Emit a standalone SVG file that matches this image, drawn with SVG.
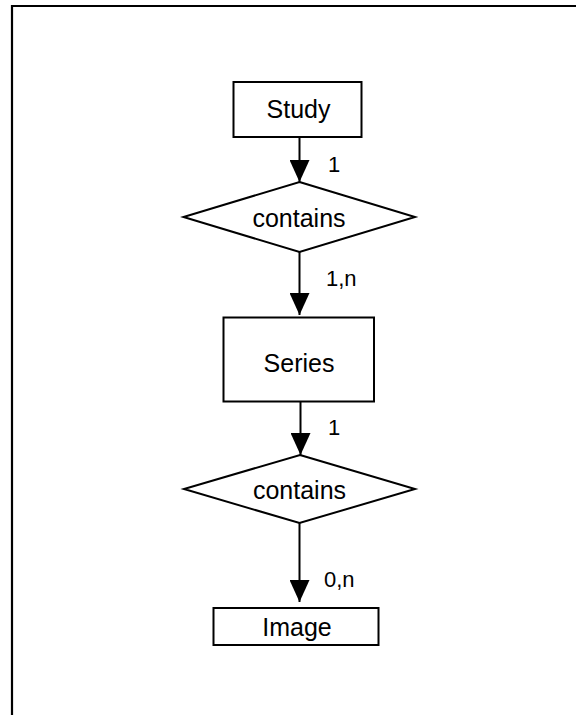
<svg xmlns="http://www.w3.org/2000/svg" width="576" height="715" viewBox="0 0 576 715">
<style>
.box{fill:#fff;stroke:#000;stroke-width:2}
.lbl{font-family:"Liberation Sans",Arial,sans-serif;font-size:25px;fill:#000;text-anchor:middle}
.card{font-family:"Liberation Sans",Arial,sans-serif;font-size:22px;fill:#000}
.conn{stroke:#000;stroke-width:2;fill:none;marker-end:url(#arr)}
</style>
<defs>
<marker id="arr" markerUnits="userSpaceOnUse" markerWidth="22" markerHeight="20" refX="22" refY="10" orient="auto">
<path d="M0,0 L22,10 L0,20 Z" fill="#000"/>
</marker>
</defs>
<rect width="576" height="715" fill="#fff"/>
<path d="M12,715 V6 H576" fill="none" stroke="#000" stroke-width="2.2"/>
<g id="connectors">
<line class="conn" x1="299.5" y1="137" x2="299.5" y2="182"/>
<line class="conn" x1="299.5" y1="252" x2="299.5" y2="315"/>
<line class="conn" x1="300.5" y1="402" x2="300.5" y2="455"/>
<line class="conn" x1="299.5" y1="523" x2="299.5" y2="602"/>
<text class="card" x="328" y="172">1</text>
<text class="card" x="326" y="286">1,n</text>
<text class="card" x="328" y="435">1</text>
<text class="card" x="324" y="587">0,n</text>
</g>
<g id="study">
<rect class="box" x="233.5" y="82" width="128" height="55"/>
<text class="lbl" x="298.5" y="118">Study</text>
</g>
<g id="contains1">
<polygon class="box" points="299.5,182 415,217 299.5,252 183.5,217"/>
<text class="lbl" x="299" y="226.5">contains</text>
</g>
<g id="series">
<rect class="box" x="223.5" y="317.5" width="150.5" height="84"/>
<text class="lbl" x="299" y="371.5">Series</text>
</g>
<g id="contains2">
<polygon class="box" points="300,455 415,489 299.5,523 184,489"/>
<text class="lbl" x="299.5" y="499">contains</text>
</g>
<g id="image">
<rect class="box" x="213.5" y="608" width="165" height="37"/>
<text class="lbl" x="297" y="635.5">Image</text>
</g>
</svg>
